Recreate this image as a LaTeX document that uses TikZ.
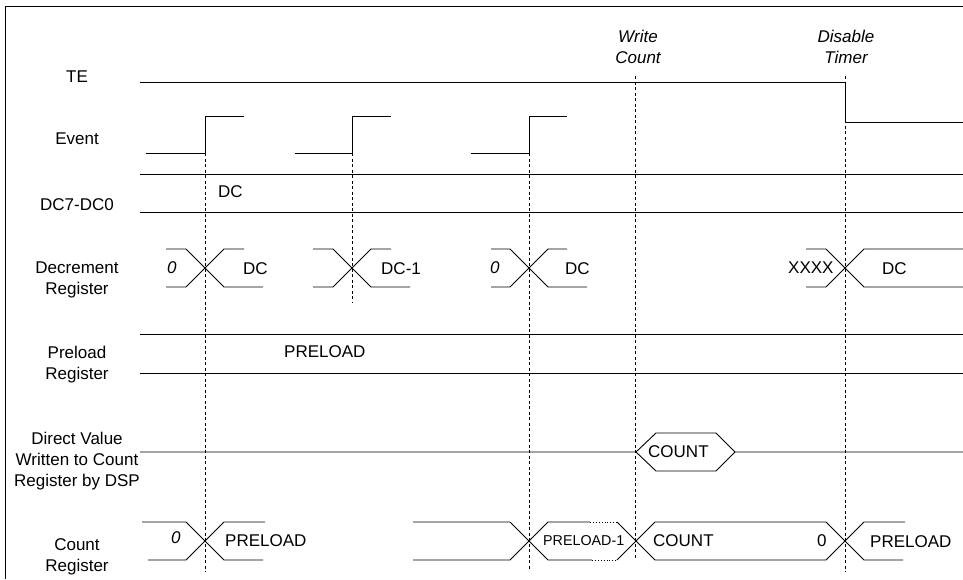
\documentclass[tikz,border=0pt]{standalone}
\usepackage{fontspec}
\setmainfont{Liberation Sans}
\usepackage{tikz}
\usetikzlibrary{positioning}

\begin{document}
\begin{tikzpicture}[x=1pt, y=-1pt,
    sig/.style={line width=0.9pt},
    guide/.style={line width=0.7pt, dash pattern=on 3pt off 2.5pt},
    rowname/.style={anchor=north, inner sep=0pt, align=center, font=\fontsize{17}{21}\selectfont},
    busval/.style={anchor=north west, inner sep=0pt, font=\fontsize{17}{21}\selectfont},
    busvali/.style={busval, font=\fontsize{17}{21}\selectfont\itshape},
    evtlabel/.style={anchor=north, inner sep=0pt, align=center, font=\fontsize{17}{21}\selectfont\itshape}]
    \useasboundingbox (0,0) rectangle (963,579);

    % frame
    \draw[sig] (5,579) -- (5,6) -- (963,6);

    % row names
    \node[rowname] (nTE)  at (77,71)  {TE};
    \node[rowname] (nEv)  at (77,133) {Event};
    \node[rowname] (nDC)  at (77,198) {DC7-DC0};
    \node[rowname] (nDec) at (77,262) {Decrement\\Register};
    \node[rowname] (nPre) at (77,346) {Preload\\Register};
    \node[rowname] (nDir) at (77,432) {Direct Value\\Written to Count\\Register by DSP};
    \node[rowname] (nCnt) at (77,538) {Count\\Register};

    % events on top
    \node[evtlabel] (wrcount) at (638,30) {Write\\Count};
    \node[evtlabel] (distimer) at (846,30) {Disable\\Timer};

    % dashed guides
    \draw[guide] (205,153) -- (205,572);
    \draw[guide] (352,153) -- (352,303);
    \draw[guide] (529,153) -- (529,570);
    \draw[guide] (635,76) -- (635,558);
    \draw[guide] (845,76) -- (845,572);

    % TE
    \draw[sig] (140,82) -- (845,82) -- (845,122) -- (963,122);

    % Event
    \foreach \a/\b/\c in {146/205/244, 295/352/391, 471/529/567}
        \draw[sig] (\a,153) -- (\b,153) -- (\b,116) -- (\c,116);

    % DC7-DC0
    \draw[sig] (140,174) -- (963,174);
    \draw[sig] (140,212) -- (963,212);
    \node[busval] (vDC) at (218,185) {DC};

    % Decrement register
    \foreach \xc/\xl/\xt/\xb in {205/166/244/263, 352/313/391/410, 529/491/567/587, 845/806/963/963} {
        \draw[sig] (\xl,249) -- (\xc-19,249) -- (\xc+19,287) -- (\xb,287);
        \draw[sig] (\xl,287) -- (\xc-19,287) -- (\xc+19,249) -- (\xt,249);
    }
    \node[busvali] (vDecA) at (167,261) {0};
    \node[busval]  (vDecB) at (243,262) {DC};
    \node[busval]  (vDecC) at (381,262) {DC-1};
    \node[busvali] (vDecD) at (490,261) {0};
    \node[busval]  (vDecE) at (565,262) {DC};
    \node[busval]  (vDecF) at (788,262) {XXXX};
    \node[busval]  (vDecG) at (882,262) {DC};

    % Preload register
    \draw[sig] (140,334) -- (963,334);
    \draw[sig] (140,373) -- (963,373);
    \node[busval] (vPre) at (284,345) {PRELOAD};

    % Direct value
    \draw[sig] (140,452) -- (636,452) -- (656,433) -- (716,433) -- (735,452) -- (963,452);
    \draw[sig] (636,452) -- (656,471) -- (716,471) -- (735,452);
    \node[busval] (vDir) at (648,445) {COUNT};

    % Count register
    \draw[sig] (142,522) -- (186,522) -- (224,560) -- (263,560);
    \draw[sig] (148,560) -- (186,560) -- (224,522) -- (265,522);
    \draw[sig] (413,522) -- (510,522) -- (548,560) -- (592,560);
    \draw[sig, dotted] (592,560) -- (617,560);
    \draw[sig] (617,560) -- (655,522) -- (826,522) -- (864,560) -- (903,560);
    \draw[sig] (413,560) -- (510,560) -- (548,522) -- (590,522);
    \draw[sig, dotted] (590,522) -- (617,522);
    \draw[sig] (617,522) -- (655,560) -- (826,560) -- (864,522) -- (905,522);
    \node[busvali] (vCntA) at (171,531) {0};
    \node[busval]  (vCntB) at (225,534) {PRELOAD};
    \node[busval, font=\fontsize{14.3}{17}\selectfont] (vCntC) at (543,535) {PRELOAD-1};
    \node[busval]  (vCntD) at (653,534) {COUNT};
    \node[busval]  (vCntE) at (817,534) {0};
    \node[busval]  (vCntF) at (870,535) {PRELOAD};
\end{tikzpicture}
\end{document}
